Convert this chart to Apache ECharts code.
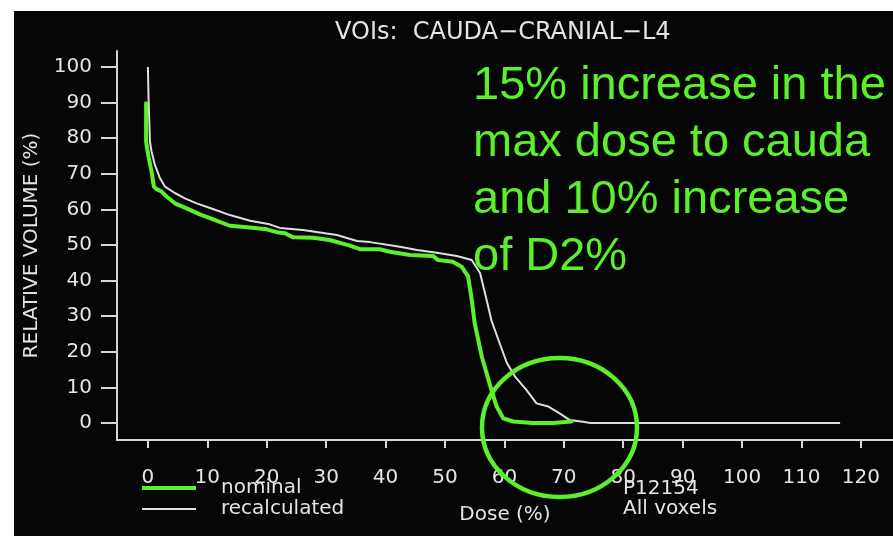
<!DOCTYPE html>
<html>
<head>
<meta charset="utf-8">
<script src="https://cdn.jsdelivr.net/npm/echarts@6/dist/echarts.min.js"></script>
<style>
  html, body { margin: 0; padding: 0; background: #ffffff; }
  #panel { position: absolute; left: 14px; top: 11px; width: 879px; height: 525px; background: #060606; }
  #chart { position: absolute; left: 0; top: 0; width: 893px; height: 536px; }
</style>
</head>
<body>
<div id="panel"></div>
<div id="chart"></div>
<script>
// Dose-volume histogram for the cauda VOI: nominal vs recalculated plan
const doseRecalculated = [0, 0.1, 0.35, 0.35, 0.62, 1.18, 2.02, 2.86, 4.54, 6.23, 8.2, 10.94, 13.8, 17.2, 20.5, 22.2, 26.1, 31.8, 35.2, 37.4, 42.4, 45.3, 48.6, 52.0, 54.5, 55.9, 57.0, 57.8, 59.0, 60.4, 61.8, 63.7, 65.4, 67.4, 69.3, 71.0, 73.2, 74.5, 116.5];
const volRecalculated  = [100, 91.7, 91.5, 79.0, 76.2, 72.5, 68.8, 66.4, 64.6, 63.1, 61.7, 60.1, 58.4, 56.8, 55.8, 54.8, 54.2, 52.8, 51.1, 50.8, 49.5, 48.6, 47.8, 46.9, 45.8, 42.1, 34.6, 28.9, 23.3, 16.9, 13.0, 9.3, 5.5, 4.6, 2.7, 0.8, 0.3, 0, 0];

const doseNominal = [-0.3, -0.3, 0.05, 0.62, 1.01, 1.46, 2.31, 3.15, 4.54, 6.51, 8.75, 10.99, 13.8, 17.17, 19.98, 21.66, 23.06, 24.4, 27.8, 30.6, 34.0, 35.7, 39.0, 40.7, 44.1, 48.0, 48.8, 51.3, 52.8, 53.9, 54.5, 55.0, 55.6, 56.2, 57.0, 57.8, 58.7, 59.8, 61.5, 64.8, 68.2, 71.3];
const volNominal  = [89.8, 79.0, 75.3, 70.6, 66.4, 65.7, 65.0, 63.6, 61.7, 60.3, 58.6, 57.2, 55.4, 54.9, 54.4, 53.6, 53.3, 52.2, 52.0, 51.4, 49.8, 48.8, 48.8, 48.1, 47.2, 46.9, 45.8, 45.3, 43.9, 41.1, 34.6, 28.0, 23.3, 18.6, 14.0, 9.3, 4.6, 1.3, 0.4, 0, 0, 0.4];

const doseTicks = [0, 10, 20, 30, 40, 50, 60, 70, 80, 90, 100, 110, 120];
const volumeTicks = [0, 10, 20, 30, 40, 50, 60, 70, 80, 90, 100];

const seriesNames = ['nominal', 'recalculated'];
const titleText = 'VOIs:  CAUDA\u2212CRANIAL\u2212L4';
const noteText = '15% increase in the\nmax dose to cauda\nand 10% increase\nof D2%';

const FG = '#e4e4e4';
const GREEN = '#5cf02c';
const FONT = 'DejaVu Sans';

function pairs(xs, ys) { return xs.map((x, i) => [x, ys[i]]); }

const chart = echarts.init(document.getElementById('chart'), null, { renderer: 'canvas' });

chart.setOption({
  backgroundColor: 'transparent',
  animation: false,
  textStyle: { fontFamily: FONT },
  title: {
    text: titleText,
    left: 335, top: 21, padding: 0,
    textStyle: { color: FG, fontFamily: FONT, fontSize: 24, fontWeight: 'normal' }
  },
  legend: {
    orient: 'vertical',
    left: 142, top: 478,
    padding: 0,
    itemWidth: 54, itemHeight: 14, itemGap: 1,
    data: [
      { name: seriesNames[0], icon: 'path://M0 0H54V4H0Z' },
      { name: seriesNames[1], icon: 'path://M0 0H49V1.6H0Z' }
    ],
    textStyle: { color: FG, fontFamily: FONT, fontSize: 20, padding: [0, 0, 0, 20] }
  },
  grid: { left: 117, right: 0, top: 51, bottom: 96 },
  xAxis: {
    type: 'value',
    min: -5.2, max: 125.4,
    name: 'Dose (%)',
    nameLocation: 'middle', nameGap: 65,
    nameTextStyle: { color: FG, fontFamily: FONT, fontSize: 20 },
    axisLine: { onZero: false, lineStyle: { color: '#d6d6d6', width: 2 } },
    axisTick: { show: true, length: 8, customValues: doseTicks, lineStyle: { color: '#d6d6d6', width: 2 } },
    axisLabel: { customValues: doseTicks, margin: 28, color: FG, fontFamily: FONT, fontSize: 20 },
    splitLine: { show: false }
  },
  yAxis: {
    type: 'value',
    min: -4.8, max: 104.5,
    name: 'RELATIVE VOLUME (%)',
    nameLocation: 'middle', nameRotate: 90, nameGap: 75,
    nameTextStyle: { color: FG, fontFamily: FONT, fontSize: 20 },
    axisLine: { show: true, onZero: false, lineStyle: { color: '#d6d6d6', width: 2 } },
    axisTick: { show: true, length: 16, customValues: volumeTicks, lineStyle: { color: '#d6d6d6', width: 2 } },
    axisLabel: { customValues: volumeTicks, margin: 25, color: FG, fontFamily: FONT, fontSize: 20, padding: [24, 0, 0, 0] },
    splitLine: { show: false }
  },
  series: [
    {
      name: seriesNames[1],
      type: 'line',
      showSymbol: false, symbol: 'none',
      data: pairs(doseRecalculated, volRecalculated),
      lineStyle: { color: '#dedede', width: 2 },
      itemStyle: { color: '#dedede' },
      z: 2
    },
    {
      name: seriesNames[0],
      type: 'line',
      showSymbol: false, symbol: 'none',
      data: pairs(doseNominal, volNominal),
      lineStyle: { color: GREEN, width: 4, join: 'round', cap: 'round' },
      itemStyle: { color: GREEN },
      z: 3
    }
  ],
  graphic: [
    {
      type: 'text', left: 473, top: 58,
      style: { text: noteText, fill: GREEN, font: '47px "Liberation Sans"', lineHeight: 57 }
    },
    {
      type: 'ellipse',
      shape: { cx: 559.5, cy: 427.5, rx: 77.5, ry: 69.5 },
      style: { fill: 'none', stroke: GREEN, lineWidth: 4.5 },
      z: 10
    },
    {
      type: 'text', left: 623, top: 479,
      style: { text: 'P12154', fill: FG, font: '20px "DejaVu Sans"' }
    },
    {
      type: 'text', left: 623, top: 499,
      style: { text: 'All voxels', fill: FG, font: '20px "DejaVu Sans"' }
    }
  ]
});
</script>
</body>
</html>
